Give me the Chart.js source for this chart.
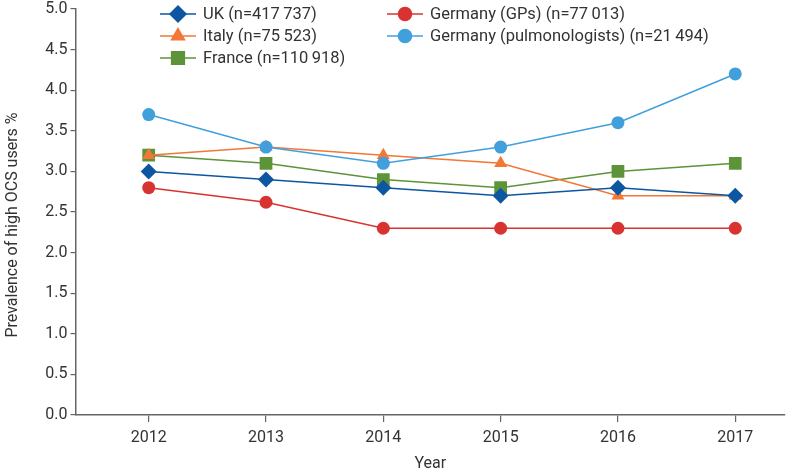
<!DOCTYPE html>
<html><head><meta charset="utf-8">
<script src="https://cdn.jsdelivr.net/npm/chart.js@4/dist/chart.umd.min.js"></script>
<style>html,body{margin:0;padding:0;background:#fff}#wrap{width:794px;height:474px}</style>
</head><body><div id="wrap"><canvas id="c" width="794" height="474"></canvas></div>
<script>
const years = [2012, 2013, 2014, 2015, 2016, 2017];
const ukValues = [3.0, 2.9, 2.8, 2.7, 2.8, 2.7];
const germanyGPValues = [2.8, 2.62, 2.3, 2.3, 2.3, 2.3];
const italyValues = [3.2, 3.3, 3.2, 3.1, 2.7, 2.7];
const germanyPulmValues = [3.7, 3.3, 3.1, 3.3, 3.6, 4.2];
const franceValues = [3.2, 3.1, 2.9, 2.8, 3.0, 3.1];
const seriesLabels = ['UK (n=417\u2009737)', 'Germany (GPs) (n=77\u2009013)', 'Italy (n=75\u2009523)', 'Germany (pulmonologists) (n=21\u2009494)', 'France (n=110\u2009918)'];
const yTicks = [0, 0.5, 1, 1.5, 2, 2.5, 3, 3.5, 4, 4.5, 5];
const yTitle = 'Prevalence of high OCS users %';
const xTitle = 'Year';

const FONT = "'Roboto', 'Liberation Sans', sans-serif";
const TXT = '#333333';

function pts(vals){ return vals.map((v,i)=>({x:years[i], y:v})); }

const styles = [
  {c:'#0d56a2', ps:'rectRot', r:8},
  {c:'#d83330', ps:'circle', r:6.5},
  {c:'#f37736', ps:'triangle', r:7.5},
  {c:'#41a0dc', ps:'circle', r:6.5},
  {c:'#5d9339', ps:'rect', r:9}
];
const allVals = [ukValues, germanyGPValues, italyValues, germanyPulmValues, franceValues];
const order = [2, 5, 3, 1, 4];

const datasets = allVals.map((vals, i) => ({
  label: seriesLabels[i],
  data: pts(vals),
  borderColor: styles[i].c,
  backgroundColor: styles[i].c,
  pointBackgroundColor: styles[i].c,
  pointBorderColor: styles[i].c,
  pointBorderWidth: 0,
  pointStyle: styles[i].ps,
  pointRadius: styles[i].r,
  pointHoverRadius: styles[i].r,
  borderWidth: 1.5,
  tension: 0,
  order: order[i]
}));

const legendPos = [
  {x:160, y:14}, {x:387, y:14},
  {x:160, y:36}, {x:387, y:36},
  {x:160, y:58}
];

const extrasPlugin = {
  id: 'extras',
  afterDraw(chart){
    const ctx = chart.ctx;
    ctx.save();
    chart.data.datasets.forEach((ds, i) => {
      const p = legendPos[i];
      ctx.strokeStyle = ds.borderColor;
      ctx.lineWidth = 1.5;
      ctx.beginPath(); ctx.moveTo(p.x, p.y); ctx.lineTo(p.x + 36, p.y); ctx.stroke();
      ctx.fillStyle = ds.borderColor;
      ctx.strokeStyle = ds.borderColor;
      Chart.helpers.drawPoint(ctx, {pointStyle: ds.pointStyle, rotation: 0, borderWidth: 0.01, radius: ds.pointRadius}, p.x + 18, p.y);
      ctx.fillStyle = TXT;
      ctx.font = "16.5px " + FONT;
      ctx.textBaseline = 'middle';
      ctx.textAlign = 'left';
      ctx.fillText(ds.label, p.x + 43, p.y + 1);
    });
    // y-axis title
    ctx.translate(13, 225);
    ctx.rotate(-Math.PI / 2);
    ctx.fillStyle = TXT;
    ctx.font = "16px " + FONT;
    ctx.textAlign = 'center';
    ctx.textBaseline = 'middle';
    ctx.fillText(yTitle, 0, 0);
    ctx.restore();
  }
};

new Chart(document.getElementById('c'), {
  type: 'line',
  data: { datasets },
  options: {
    responsive: false,
    animation: false,
    layout: { padding: { top: 9, right: 6, left: 0, bottom: 0 } },
    plugins: { legend: { display: false }, tooltip: { enabled: false } },
    scales: {
      x: {
        type: 'linear',
        min: 2011.376, max: 2017.424,
        afterBuildTicks: (s) => { s.ticks = years.map(v => ({value: v})); },
        afterFit: (s) => { s.height = 59; s.paddingLeft = 0; s.paddingRight = 0; },
        grid: { display: true, drawOnChartArea: false, drawTicks: true, tickLength: 7, color: '#666', lineWidth: 1.2 },
        border: { display: true, color: '#666', width: 1.5 },
        ticks: { color: TXT, font: { family: FONT, size: 16 }, padding: 6, callback: v => String(v), maxRotation: 0 },
        title: { display: true, text: xTitle, color: TXT, font: { family: FONT, size: 16 }, padding: { top: 6, bottom: 0 } }
      },
      y: {
        min: 0, max: 5,
        afterBuildTicks: (s) => { s.ticks = yTicks.map(v => ({value: v})); },
        afterFit: (s) => { s.width = 75.5; s.paddingTop = 0; s.paddingBottom = 0; },
        grid: { display: true, drawOnChartArea: false, drawTicks: true, tickLength: 5, color: '#666', lineWidth: 1.2 },
        border: { display: true, color: '#666', width: 1.5 },
        ticks: { color: TXT, font: { family: FONT, size: 16 }, padding: 3, callback: v => v.toFixed(1) }
      }
    }
  },
  plugins: [extrasPlugin]
});
</script>
</body></html>
